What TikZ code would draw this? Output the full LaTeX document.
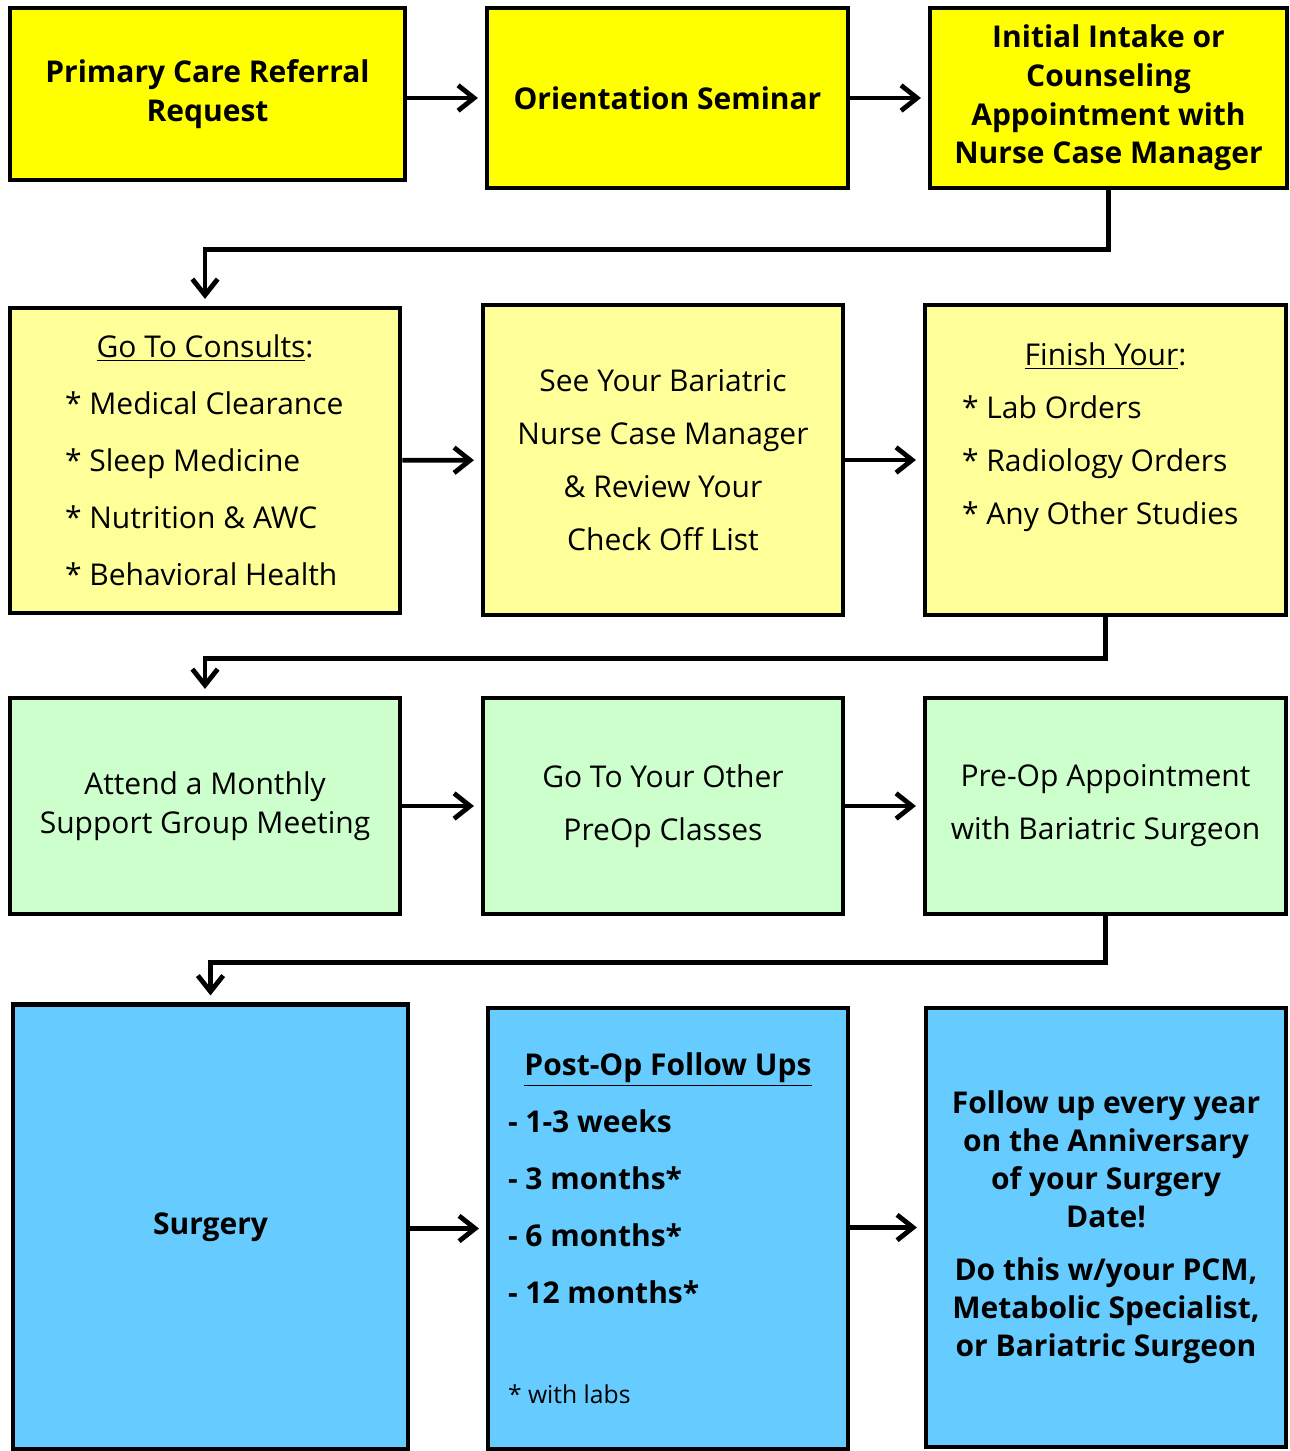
\documentclass[tikz,border=0pt]{standalone}
\usepackage{fontspec}
\setmainfont{Open Sans}
\usetikzlibrary{arrows.meta, positioning}
\newlength{\pxl}\setlength{\pxl}{0.75pt}
\definecolor{amarillo}{HTML}{FFFF00}
\definecolor{amarillopalido}{HTML}{FFFF99}
\definecolor{verdepalido}{HTML}{CCFFCC}
\definecolor{azulcielo}{HTML}{66CCFF}
\tikzstyle{etapa} = [draw=black, line width=3.6pt, rectangle, inner sep=0pt, align=center]
\tikzstyle{tam} = [minimum width=#1*\pxl]
\tikzstyle{negrita} = [font=\fontsize{22.5}{28.9}\selectfont\bfseries]
\tikzstyle{normal} = [font=\fontsize{22.5}{39.75}\selectfont]
\tikzstyle{flecha} = [line width=3.6pt, -{Straight Barb[length=12pt, width=19pt]}, shorten >=5pt]

\begin{document}
\begin{tikzpicture}[x=\pxl, y=-\pxl]
	\useasboundingbox (0,0) rectangle (1289,1451);
	% primera fila
	\node [etapa, negrita, fill=amarillo, tam=395, minimum height=172*\pxl] (referral) at (207.5,94) {Primary Care Referral\\Request};
	\node [etapa, negrita, fill=amarillo, tam=361, minimum height=180*\pxl] (seminar) at (667.5,98) {Orientation Seminar};
	\node [etapa, negrita, fill=amarillo, tam=357, minimum height=180*\pxl] (intake) at (1108.5,98) {Initial Intake or\\Counseling\\Appointment with\\Nurse Case Manager};
	% segunda fila
	\node [etapa, fill=amarillopalido, tam=390, minimum height=305*\pxl, font=\fontsize{22.5}{42.75}\selectfont] (consults) at (205,460.5) {%
		\begin{minipage}{280\pxl}
			\centering \underline{Go To Consults}:\par
			\raggedright
			* Medical Clearance\par
			* Sleep Medicine\par
			* Nutrition \& AWC\par
			* Behavioral Health\par
		\end{minipage}};
	\node [etapa, normal, fill=amarillopalido, tam=360, minimum height=310*\pxl] (review) at (663,460) {See Your Bariatric\\Nurse Case Manager\\\& Review Your\\Check Off List};
	\node [etapa, normal, fill=amarillopalido, tam=361, minimum height=310*\pxl] (finish) at (1105.5,460) {%
		\begin{minipage}{287\pxl}
			\centering \underline{Finish Your}:\par
			\raggedright
			* Lab Orders\par
			* Radiology Orders\par
			* Any Other Studies\par
			\vspace*{34pt}
		\end{minipage}};
	% tercera fila
	\node [etapa, fill=verdepalido, tam=390, minimum height=216*\pxl, font=\fontsize{22.5}{29.25}\selectfont] (support) at (205,806) {Attend a Monthly\\Support Group Meeting};
	\node [etapa, normal, fill=verdepalido, tam=360, minimum height=216*\pxl] (classes) at (663,806) {Go To Your Other\\PreOp Classes};
	\node [etapa, normal, fill=verdepalido, tam=361, minimum height=216*\pxl] (preop) at (1105.5,806) {Pre-Op Appointment\\with Bariatric Surgeon};
	% cuarta fila
	\node [etapa, negrita, fill=azulcielo, tam=395, minimum height=445*\pxl] (surgery) at (210.5,1227) {Surgery};
	\node [etapa, fill=azulcielo, tam=360, minimum height=441*\pxl, font=\fontsize{22.5}{42.75}\selectfont\bfseries] (postop) at (668,1228.5) {%
		\begin{minipage}{320\pxl}
			\centering \underline{Post-Op Follow Ups}\par
			\raggedright
			- 1-3 weeks\par
			- 3 months*\par
			- 6 months*\par
			- 12 months*\par
			\vspace{55pt}
			{\fontsize{18.5}{20}\selectfont\mdseries * with labs\par}
		\end{minipage}};
	\node [etapa, fill=azulcielo, tam=360, minimum height=439*\pxl, font=\fontsize{22.5}{28.5}\selectfont\bfseries] (yearly) at (1106,1227.5) {Follow up every year\\on the Anniversary\\of your Surgery\\Date!\\[11pt]Do this w/your PCM,\\Metabolic Specialist,\\or Bariatric Surgeon};
	% flechas
	\draw [flecha] (referral.east |- seminar.west) -- (seminar.west);
	\draw [flecha] (seminar) -- (intake);
	\draw [flecha] (intake.south) -- ++(0,59) -| (consults.north);
	\draw [flecha] (consults) -- (review);
	\draw [flecha] (review) -- (finish);
	\draw [flecha] (finish.south) -- ++(0,41) -| (support.north);
	\draw [flecha] (support) -- (classes);
	\draw [flecha] (classes) -- (preop);
	\draw [flecha] (preop.south) -- ++(0,46) -| (surgery.north);
	\draw [flecha] (surgery.east |- postop.west) -- (postop.west);
	\draw [flecha] (postop.east |- yearly.west) -- (yearly.west);
\end{tikzpicture}
\end{document}
